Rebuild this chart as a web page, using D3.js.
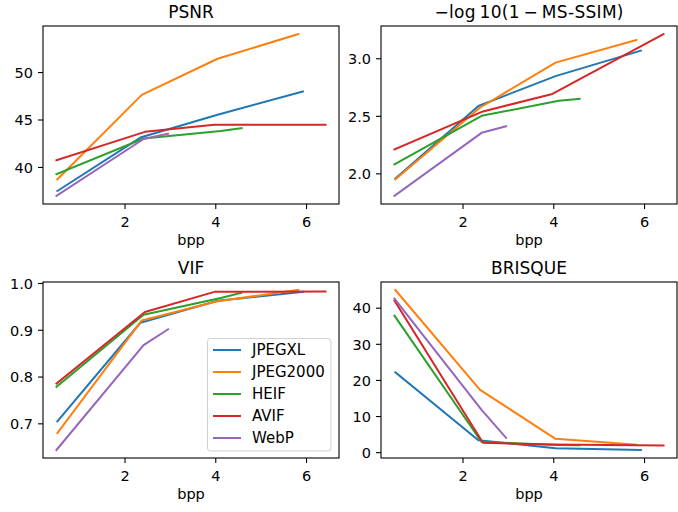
<!DOCTYPE html>
<html>
<head>
<meta charset="utf-8">
<script src="https://cdn.jsdelivr.net/npm/d3@7"></script>
<style>
  html, body { margin: 0; padding: 0; background: #fff; }
  svg { display: block; font-family: "DejaVu Sans", sans-serif; }
</style>
</head>
<body>
<div id="chart"></div>
<script>
// codecs and their colours (matplotlib tab10)
const codecs = ['JPEGXL', 'JPEG2000', 'HEIF', 'AVIF', 'WebP'];
const colors = ['#1f77b4', '#ff7f0e', '#2ca02c', '#d62728', '#9467bd'];

// bits per pixel for each codec (same order as codecs)
const bpp = [
  [0.52, 2.35, 4.05, 5.93],
  [0.52, 2.38, 4.05, 5.83],
  [0.50, 2.42, 4.12, 4.58],
  [0.50, 2.45, 3.98, 6.43],
  [0.50, 2.42, 2.96]
];

// metric values per codec
const psnr = [
  [37.47, 43.1, 45.5, 47.95],
  [38.7, 47.6, 51.4, 54.0],
  [39.25, 43.0, 43.8, 44.1],
  [40.7, 43.7, 44.45, 44.45],
  [36.95, 42.95, 43.5]
];
const msssim = [
  [1.955, 2.585, 2.845, 3.066],
  [1.948, 2.57, 2.962, 3.158],
  [2.078, 2.50, 2.63, 2.648],
  [2.207, 2.538, 2.69, 3.21],
  [1.804, 2.352, 2.409]
];
const vif = [
  [0.704, 0.915, 0.962, 0.981],
  [0.679, 0.920, 0.961, 0.985],
  [0.778, 0.932, 0.968, 0.979],
  [0.785, 0.938, 0.981, 0.982],
  [0.643, 0.867, 0.901]
];
const brisque = [
  [22.1, 3.3, 1.1, 0.6],
  [44.9, 17.3, 3.7, 2.1],
  [37.8, 2.8, 2.0, 1.9],
  [42.0, 2.6, 2.1, 1.85],
  [42.5, 11.7, 3.95]
];

// tick labels
const xTicks = [2, 4, 6];
const psnrTicks = [40, 45, 50];
const msssimTicks = [2.0, 2.5, 3.0];
const vifTicks = [0.7, 0.8, 0.9, 1.0];
const brisqueTicks = [0, 10, 20, 30, 40];

const W = 678, H = 512;
const svg = d3.select('#chart').append('svg')
  .attr('width', W).attr('height', H)
  .attr('viewBox', `0 0 ${W} ${H}`);

const panels = [
  { title: 'PSNR', values: psnr, ticks: psnrTicks, fmt: d3.format('d'), x0: 43, x1: 339, y0: 26, y1: 204 },
  { title: '\u2212log\u200910(1\u2009\u2212\u2009MS-SSIM)', values: msssim, ticks: msssimTicks, fmt: d3.format('.1f'), x0: 381, x1: 677, y0: 26, y1: 204, titleLen: 189 },
  { title: 'VIF', values: vif, ticks: vifTicks, fmt: d3.format('.1f'), x0: 43, x1: 339, y0: 282, y1: 458, legend: true },
  { title: 'BRISQUE', values: brisque, ticks: brisqueTicks, fmt: d3.format('d'), x0: 381, x1: 677, y0: 282, y1: 458 }
];

// matplotlib-style auto limits: data extent padded by 5% each side
function padded(ext) {
  const d = ext[1] - ext[0];
  return [ext[0] - 0.05 * d, ext[1] + 0.05 * d];
}

const TXT = '#000';
const TICK_FS = 14.5;

panels.forEach(p => {
  const xDom = padded(d3.extent(bpp.flat()));
  const yDom = padded(d3.extent(p.values.flat()));
  const x = d3.scaleLinear().domain(xDom).range([p.x0, p.x1]);
  const y = d3.scaleLinear().domain(yDom).range([p.y1, p.y0]);

  const g = svg.append('g');

  // lines
  const line = d3.line().x(d => x(d[0])).y(d => y(d[1]));
  codecs.forEach((c, i) => {
    const pts = bpp[i].map((b, j) => [b, p.values[i][j]]);
    g.append('path')
      .attr('d', line(pts))
      .attr('fill', 'none')
      .attr('stroke', colors[i])
      .attr('stroke-width', 2)
      .attr('stroke-linejoin', 'round')
      .attr('stroke-linecap', 'square');
  });

  // frame
  g.append('rect')
    .attr('x', p.x0).attr('y', p.y0)
    .attr('width', p.x1 - p.x0).attr('height', p.y1 - p.y0)
    .attr('fill', 'none').attr('stroke', '#000').attr('stroke-width', 1.1);

  // x axis
  const xa = g.append('g').attr('transform', `translate(0,${p.y1})`)
    .call(d3.axisBottom(x).tickValues(xTicks).tickSize(5).tickPadding(5).tickFormat(d3.format('d')));
  xa.select('.domain').remove();
  xa.selectAll('line').attr('stroke', '#000').attr('stroke-width', 1.1);
  xa.selectAll('text').attr('fill', TXT).attr('font-size', TICK_FS).attr('font-family', 'DejaVu Sans')
    .attr('dy', null).attr('y', 23);

  // y axis
  const ya = g.append('g').attr('transform', `translate(${p.x0},0)`)
    .call(d3.axisLeft(y).tickValues(p.ticks).tickSize(5).tickPadding(5).tickFormat(p.fmt));
  ya.select('.domain').remove();
  ya.selectAll('line').attr('stroke', '#000').attr('stroke-width', 1.1);
  ya.selectAll('text').attr('fill', TXT).attr('font-size', TICK_FS).attr('font-family', 'DejaVu Sans')
    .attr('x', -10).attr('dy', '0.36em');

  // title
  const t = g.append('text')
    .attr('x', (p.x0 + p.x1) / 2).attr('y', p.y0 - 8.3)
    .attr('text-anchor', 'middle')
    .attr('font-size', 17).attr('fill', TXT)
    .text(p.title);
  if (p.titleLen) t.attr('textLength', p.titleLen).attr('lengthAdjust', 'spacing');

  // x label
  g.append('text')
    .attr('x', (p.x0 + p.x1) / 2).attr('y', p.y1 + 40.5)
    .attr('text-anchor', 'middle')
    .attr('font-size', TICK_FS).attr('fill', TXT)
    .text('bpp');

  // legend
  if (p.legend) {
    const lg = g.append('g');
    lg.append('rect')
      .attr('x', 207.5).attr('y', 338.5).attr('width', 123.5).attr('height', 112.5)
      .attr('rx', 3).attr('fill', '#fff').attr('fill-opacity', 0.8)
      .attr('stroke', '#d0d0d0').attr('stroke-width', 1);
    codecs.forEach((c, i) => {
      const cy = 350 + i * 22;
      lg.append('line')
        .attr('x1', 213).attr('x2', 241).attr('y1', cy).attr('y2', cy)
        .attr('stroke', colors[i]).attr('stroke-width', 2);
      lg.append('text')
        .attr('x', 252).attr('y', cy).attr('dy', '0.36em')
        .attr('font-size', 15).attr('fill', TXT)
        .text(c);
    });
  }
});
</script>
</body>
</html>
